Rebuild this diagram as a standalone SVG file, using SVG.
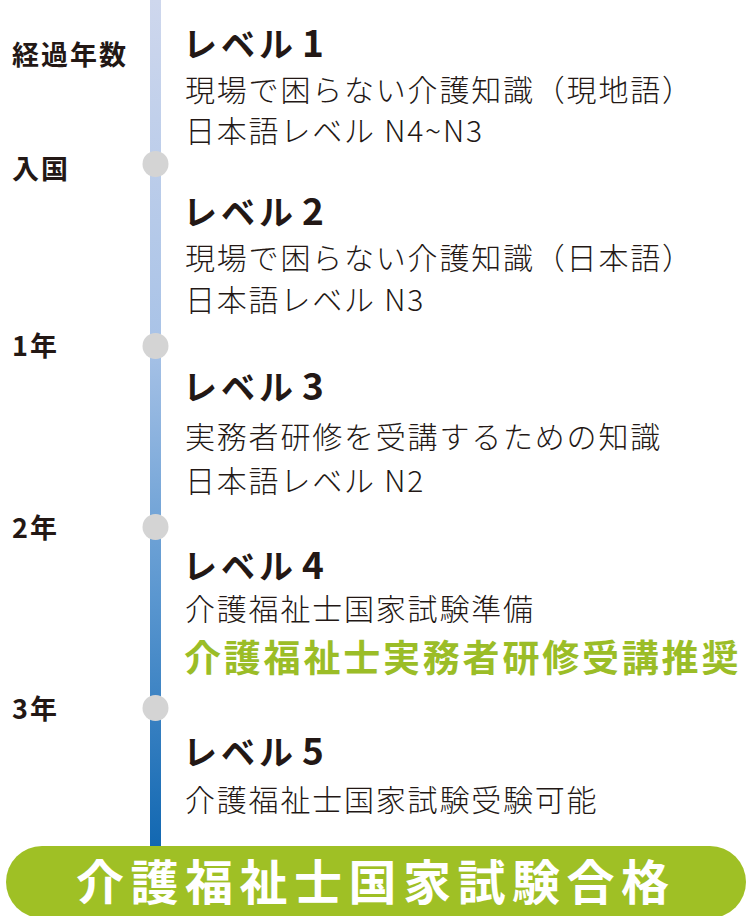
<svg xmlns="http://www.w3.org/2000/svg" width="750" height="916" viewBox="0 0 750 916">
<defs>
<linearGradient id="lineGrad" x1="0" y1="0" x2="0" y2="1">
<stop offset="0" stop-color="#ced7ed"/>
<stop offset="0.4" stop-color="#a9c3e7"/>
<stop offset="0.7" stop-color="#5b97d0"/>
<stop offset="1" stop-color="#1167b1"/>
</linearGradient>
<style>
text{font-family:"Noto Sans CJK JP","Noto Sans",sans-serif;fill:#231815}
.yr{font-size:27px;font-weight:700;letter-spacing:2px}
.ttl{font-size:34px;font-weight:700;letter-spacing:4px}
.num{font-size:37px;font-weight:700;letter-spacing:0}
.body{font-size:30px;font-weight:300;letter-spacing:1.8px}
.green{font-size:37px;font-weight:700;letter-spacing:2.8px;fill:#9bbd27}
.dot{fill:#d4d4d4}
.banner{fill:#9fc025}
.bannerText{font-size:48px;font-weight:700;letter-spacing:6.5px;fill:#ffffff}
</style>
</defs>
<g id="connectors">
<rect x="150" y="0" width="11" height="850" fill="url(#lineGrad)"/>
</g>
<g id="axis-labels">
<text class="yr" x="12" y="65">経過年数</text>
<text class="yr" x="12" y="179">入国</text>
<text class="yr" x="12" y="356">1年</text>
<text class="yr" x="12" y="538">2年</text>
<text class="yr" x="12" y="719">3年</text>
</g>
<g id="milestones">
<circle class="dot" cx="155.5" cy="164" r="13"/>
<circle class="dot" cx="155.5" cy="346" r="13"/>
<circle class="dot" cx="155.5" cy="527" r="13"/>
<circle class="dot" cx="155.5" cy="708" r="13"/>
</g>
<g id="level1">
<text class="ttl" x="183" y="57">レベル<tspan class="num" x="302">1</tspan></text>
<text class="body" x="185" y="101">現場で困らない介護知識（現地語）</text>
<text class="body" x="185" y="142">日本語レベル N4~N3</text>
</g>
<g id="level2">
<text class="ttl" x="183" y="225">レベル<tspan class="num" x="302">2</tspan></text>
<text class="body" x="185" y="269">現場で困らない介護知識（日本語）</text>
<text class="body" x="185" y="311">日本語レベル N3</text>
</g>
<g id="level3">
<text class="ttl" x="183" y="400">レベル<tspan class="num" x="302">3</tspan></text>
<text class="body" x="185" y="448">実務者研修を受講するための知識</text>
<text class="body" x="185" y="492">日本語レベル N2</text>
</g>
<g id="level4">
<text class="ttl" x="183" y="579">レベル<tspan class="num" x="302">4</tspan></text>
<text class="body" x="185" y="620">介護福祉士国家試験準備</text>
<text class="green" x="184" y="672">介護福祉士実務者研修受講推奨</text>
</g>
<g id="level5">
<text class="ttl" x="183" y="765">レベル<tspan class="num" x="302">5</tspan></text>
<text class="body" x="185" y="811">介護福祉士国家試験受験可能</text>
</g>
<g id="goal">
<rect class="banner" x="6" y="846" width="740" height="72" rx="36" ry="36"/>
<text class="bannerText" x="76" y="900">介護福祉士国家試験合格</text>
</g>
</svg>
